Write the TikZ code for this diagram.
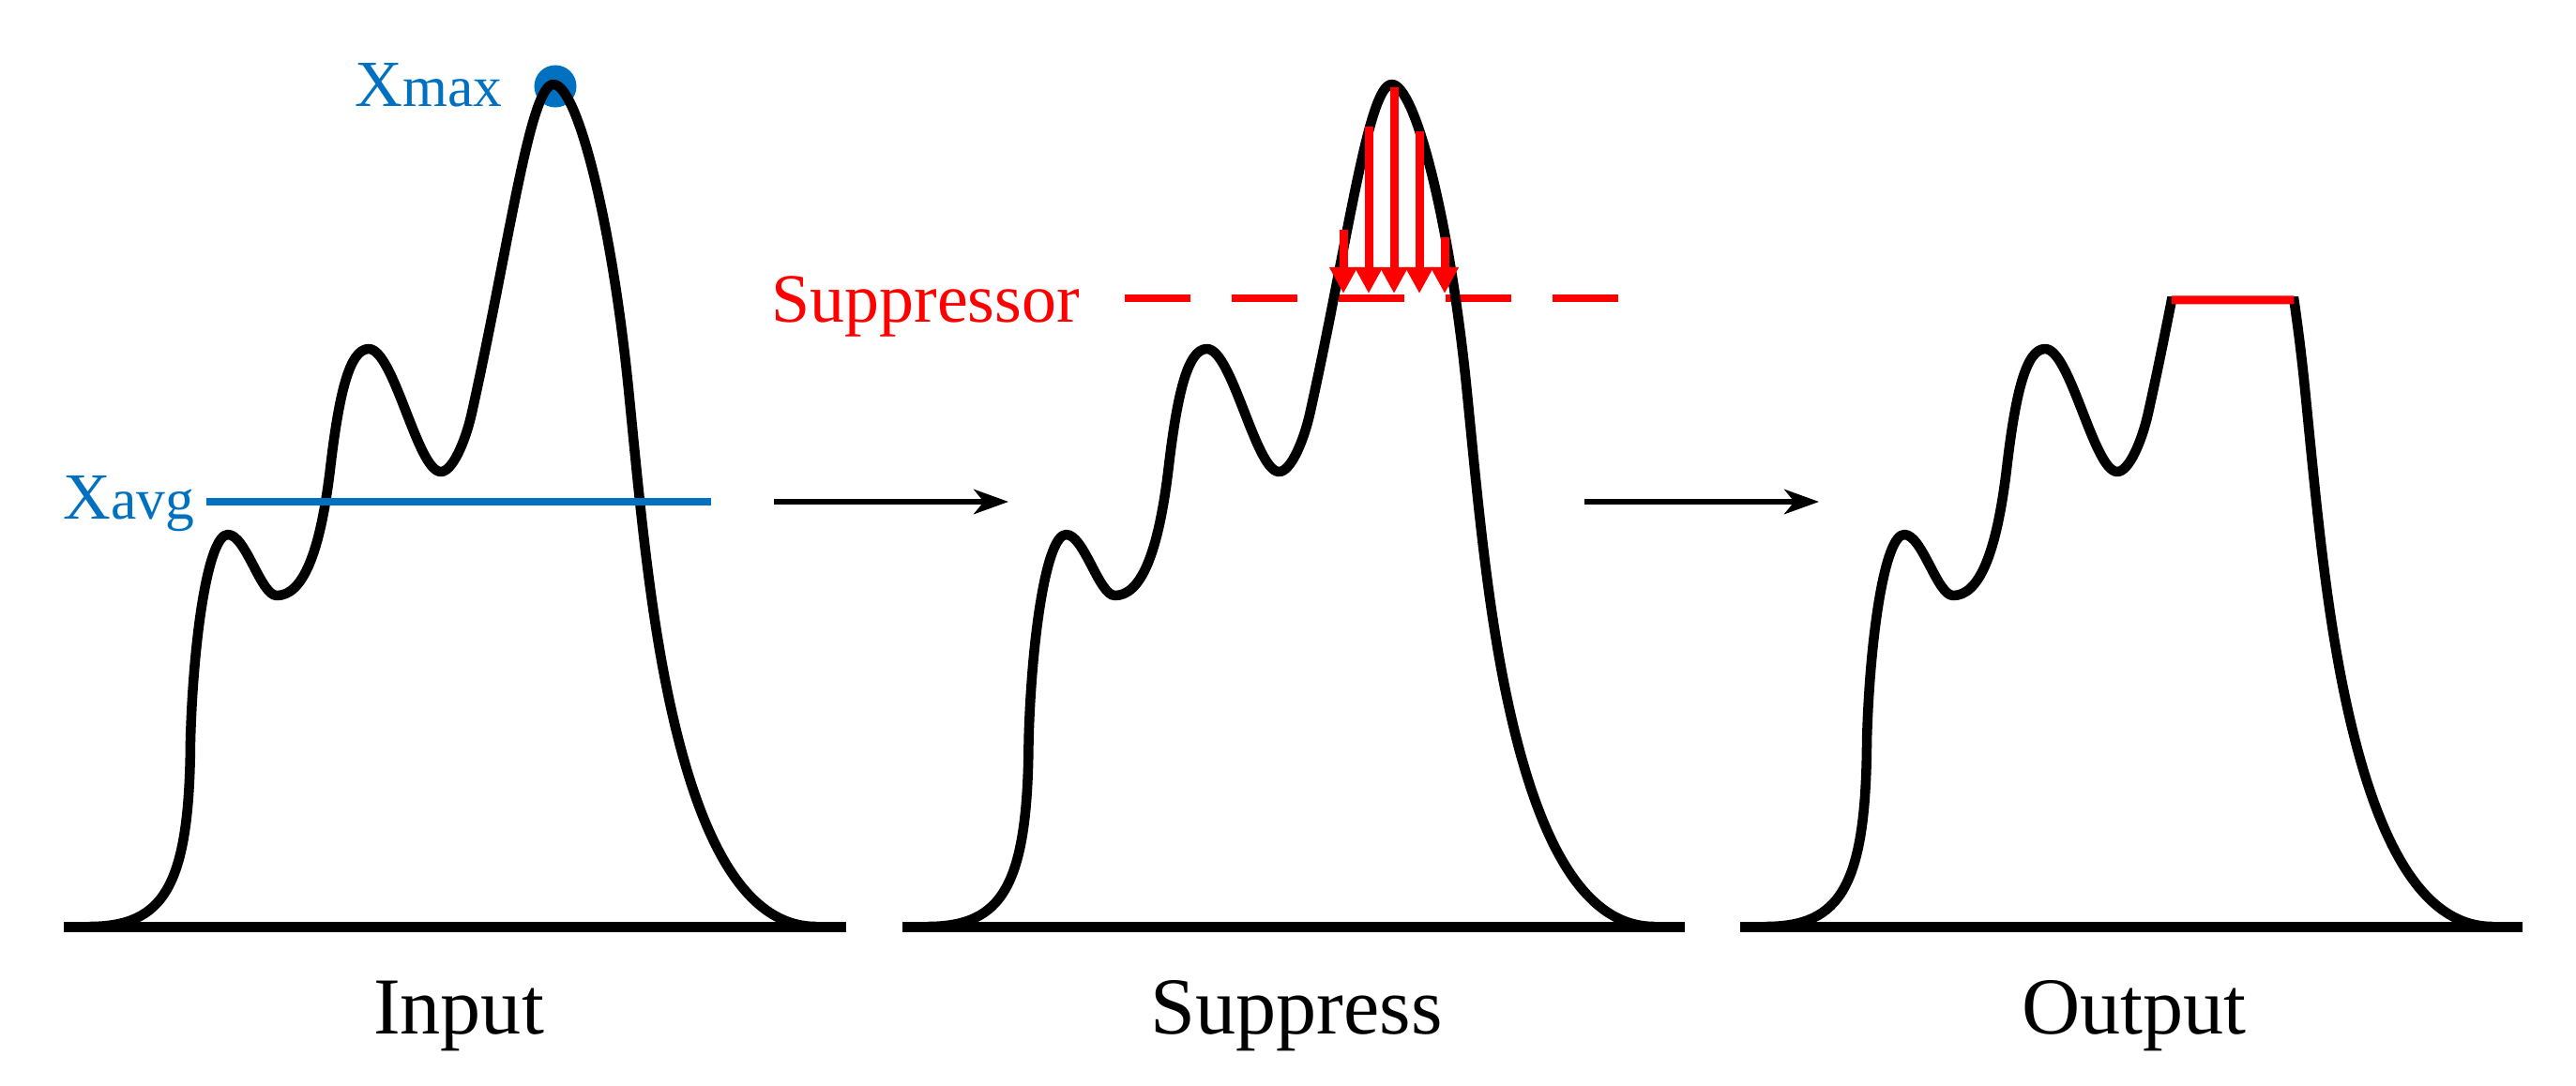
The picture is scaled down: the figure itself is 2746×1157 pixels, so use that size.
\documentclass[tikz,border=0pt]{standalone}
\usepackage{fontspec}
\setmainfont{Liberation Serif}
\usetikzlibrary{arrows.meta,intersections}
\definecolor{xblue}{RGB}{0,112,192}
\definecolor{xred}{RGB}{255,0,0}
\def\curvepath{(95,988) .. controls (175,988) and (202,945) .. (203,790)
 .. controls (206,680) and (222,570) .. (243,570)
 .. controls (262,570) and (278,635) .. (295,635)
 .. controls (322,635) and (341,592) .. (352,500)
 .. controls (361,423) and (372,372) .. (393,372)
 .. controls (420,372) and (445,503) .. (470,503)
 .. controls (482,503) and (496,471.5) .. (503,440)
 .. controls (543,260) and (565,90) .. (590,90)
 .. controls (615,90) and (652,235) .. (670,415)
 .. controls (680,515) and (690,630) .. (710,730)
 .. controls (746,910) and (800,988) .. (870,988)}
\begin{document}
\begin{tikzpicture}[x=0.01cm,y=-0.01cm,
  curve/.style={line width=0.105cm, line join=round, line cap=round},
  baseln/.style={line width=0.11cm},
  flow/.style={line width=0.055cm, -{Stealth[length=10.5pt,width=7.5pt,inset=3pt]}},
  press/.style={xred, line width=0.09cm, -{Triangle[length=8pt,width=8pt]}},
  lbl/.style={font=\fontsize{24.5}{29}\selectfont, anchor=base, inner sep=0pt},
  tag/.style={anchor=base west, inner sep=0pt}]
\path[use as bounding box] (0,0) rectangle (2746,1157);

% ---------- Panel 1: Input ----------
\draw[baseln] (68,988) -- (902,988);
\node[circle, fill=xblue, minimum size=0.45cm, inner sep=0pt] (dot) at (592,92) {};
\draw[curve] \curvepath;
\draw[xblue, line width=0.08cm] (220,535) -- (758,535);
\node[tag, text=xblue] (xmax) at (378,113) {\fontsize{20}{24}\selectfont X\fontsize{17.5}{20}\selectfont max};
\node[tag, text=xblue] (xavg) at (67,553) {\fontsize{20}{24}\selectfont X\fontsize{17.5}{20}\selectfont avg};
\node[lbl] (input) at (489,1102) {Input};

% arrow 1
\coordinate (a1s) at (825,535);
\coordinate (a1e) at (1075,535);
\draw[flow] (a1s) -- (a1e);

% ---------- Panel 2: Suppress ----------
\begin{scope}[xshift=8.93cm]
\draw[baseln] (68,988) -- (902,988);
\draw[xred, line width=0.085cm, dash pattern=on 0.70cm off 0.44cm] (305,318) -- (831,318);
\draw[curve] \curvepath;
\end{scope}
\coordinate (t1) at (1432,245); \coordinate (b1) at (1432,313);
\coordinate (t2) at (1459,135); \coordinate (b2) at (1459,313);
\coordinate (t3) at (1486,93);  \coordinate (b3) at (1486,313);
\coordinate (t4) at (1513,140); \coordinate (b4) at (1513,313);
\coordinate (t5) at (1540,253); \coordinate (b5) at (1540,313);
\foreach \i in {1,...,5} \draw[press] (t\i) -- (b\i);
\node[tag, text=xred] (supp) at (822,343) {\fontsize{21}{25}\selectfont Suppressor};
\node[lbl] (suppress) at (1382,1102) {Suppress};

% arrow 2
\coordinate (a2s) at (1689,535);
\coordinate (a2e) at (1939,535);
\draw[flow] (a2s) -- (a2e);

% ---------- Panel 3: Output ----------
\begin{scope}[xshift=17.86cm]
\draw[baseln] (68,988) -- (902,988);
\path[name path=c3] \curvepath;
\path[name path=cap] (400,320) -- (800,320);
\path[name intersections={of=c3 and cap, by={capL,capR}, sort by=cap}];
\begin{scope}
\clip (0,316) rectangle (1000,1100);
\draw[curve] \curvepath;
\end{scope}
\draw[xred, line width=0.09cm] (capL) -- (capR);
\end{scope}
\node[lbl] (output) at (2275,1102) {Output};
\end{tikzpicture}
\end{document}
